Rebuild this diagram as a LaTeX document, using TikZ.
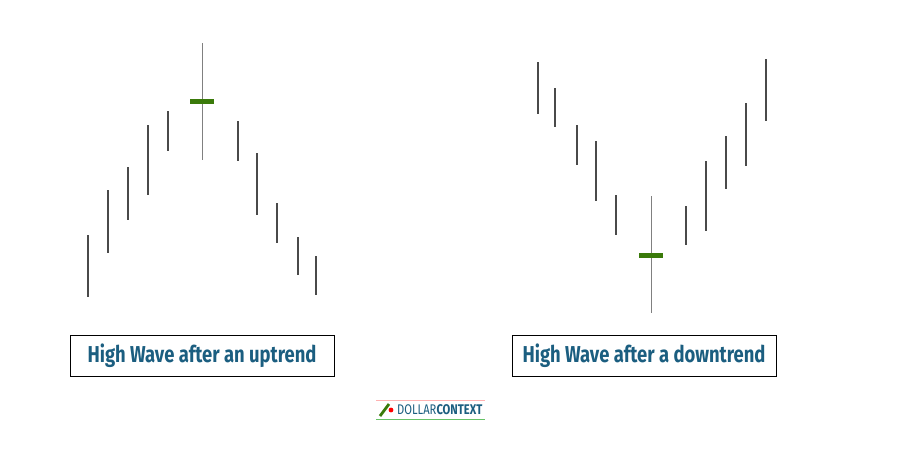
\documentclass[tikz,border=0pt]{standalone}
\usepackage{fontspec}
\setmainfont{Fira Sans}
\usetikzlibrary{positioning}
\definecolor{barcol}{HTML}{4A4A4A}
\definecolor{dojicol}{HTML}{3A7A0A}
\definecolor{labelcol}{HTML}{1B5E80}
\begin{document}
\begin{tikzpicture}
[
x=1pt, y=-1pt,
bar/.style={draw=barcol, line width=1.6pt},
wick/.style={draw=gray, line width=0.8pt},
body/.style={draw=none, fill=dojicol},
labelnode/.style={rectangle, draw=black, line width=0.6pt, minimum width=264pt, minimum height=41pt, text=labelcol, font=\bfseries\addfontfeature{FakeStretch=0.8}\fontsize{23}{26}\selectfont},
every node/.style={inner sep=0}
]
\useasboundingbox (0,0) rectangle (901,451);
%Bars left
\foreach \x/\lo/\hi in {88/235/297, 108/190/253, 128/167/220, 148/125/195, 168/111/151, 238/121/161, 257/153/215, 277/203/243, 298/237/275, 316/256/295}
  \draw[bar] (\x,\lo) -- (\x,\hi);
\draw[wick] (202,43) -- (202,160);
\fill[body] (190,98.5) rectangle (214,103.5);
%Bars right
\foreach \x/\lo/\hi in {538/62/114, 555/88/127, 577/125/165, 596/141/201, 616/195/235, 686/206/245, 706/161/231, 726/136/189, 746/103/166, 766/59/121}
  \draw[bar] (\x,\lo) -- (\x,\hi);
\draw[wick] (651,196) -- (651,313);
\fill[body] (639,252.5) rectangle (663,257.5);
%Labels
\node[labelnode] (up) at (202,355.5) {High Wave after an uptrend};
\node[labelnode] (down) at (644,355.5) {High Wave after a downtrend};
%Logo
\draw[red!30, line width=0.6pt] (376,400) -- (485,400);
\draw[green!60!black!60, line width=0.8pt] (376,419) -- (485,419);
\draw[dojicol, line width=2.8pt] (380,416) -- (389,404);
\fill[red] (391,410) circle (2.4pt);
\node[font=\addfontfeature{FakeStretch=0.8}\fontsize{14}{16}\selectfont, anchor=west, text=labelcol] (logo) at (397,410) {DOLLAR\textbf{CONTEXT}};
\end{tikzpicture}
\end{document}
